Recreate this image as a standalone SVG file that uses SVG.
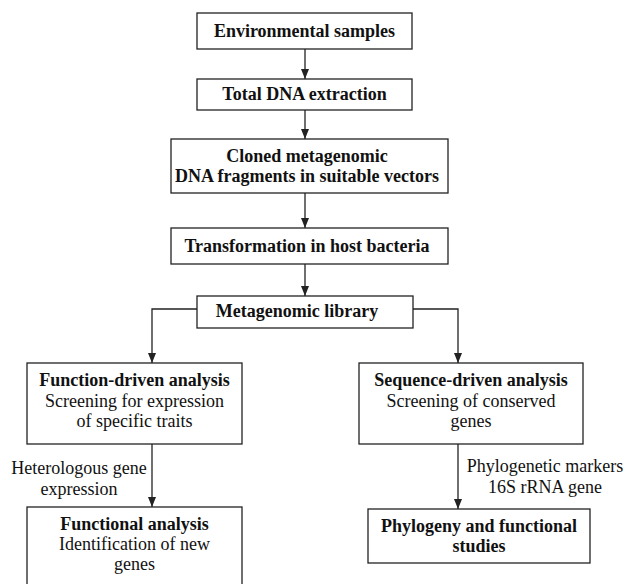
<svg xmlns="http://www.w3.org/2000/svg" width="624" height="584" viewBox="0 0 624 584">
<style>
.box{fill:#fff;stroke:#222;stroke-width:1.3}
text{font-family:'Liberation Serif','Times New Roman','DejaVu Serif',serif;font-size:18px;fill:#111;text-anchor:middle}
.b{font-weight:bold}
.c{fill:none;stroke:#222;stroke-width:1.3}
</style>
<defs>
<marker id="ah" markerWidth="10" markerHeight="10" viewBox="0 0 10 10" refX="10" refY="5" orient="auto" markerUnits="userSpaceOnUse">
<path d="M0,1 L10,5 L0,9 Z" fill="#222"/>
</marker>
</defs>
<rect width="624" height="584" fill="#fff"/>
<g id="connectors">
<path class="c" d="M305,49 V79" marker-end="url(#ah)"/>
<path class="c" d="M305,110 V139" marker-end="url(#ah)"/>
<path class="c" d="M305,193 V228" marker-end="url(#ah)"/>
<path class="c" d="M305,264 V296" marker-end="url(#ah)"/>
<path class="c" d="M197,309 H152 V363" marker-end="url(#ah)"/>
<path class="c" d="M413,309 H458 V363" marker-end="url(#ah)"/>
<path class="c" d="M152,444 V507" marker-end="url(#ah)"/>
<path class="c" d="M458,444 V509" marker-end="url(#ah)"/>
<text x="79" y="474">Heterologous gene</text>
<text x="79" y="495">expression</text>
<text x="545" y="472">Phylogenetic markers</text>
<text x="545" y="493">16S rRNA gene</text>
</g>
<g id="n1"><rect class="box" x="197" y="13" width="215" height="36"/><text class="b" x="304.5" y="37">Environmental samples</text></g>
<g id="n2"><rect class="box" x="197" y="79" width="215" height="31"/><text class="b" x="304.5" y="100">Total DNA extraction</text></g>
<g id="n3"><rect class="box" x="171" y="139" width="277" height="54"/><text class="b" x="307" y="162">Cloned metagenomic</text><text class="b" x="307" y="182">DNA fragments in suitable vectors</text></g>
<g id="n4"><rect class="box" x="171" y="228" width="277" height="36"/><text class="b" x="307" y="252">Transformation in host bacteria</text></g>
<g id="n5"><rect class="box" x="197" y="296" width="216" height="32"/><text class="b" x="297" y="317">Metagenomic library</text></g>
<g id="n6"><rect class="box" x="27" y="363" width="215" height="81"/><text class="b" x="134.5" y="386">Function-driven analysis</text><text x="134.5" y="407">Screening for expression</text><text x="134.5" y="427">of specific traits</text></g>
<g id="n7"><rect class="box" x="27" y="507" width="215" height="90"/><text class="b" x="134.5" y="530">Functional analysis</text><text x="134.5" y="550">Identification of new</text><text x="134.5" y="570">genes</text></g>
<g id="n8"><rect class="box" x="359" y="363" width="224" height="81"/><text class="b" x="471" y="386">Sequence-driven analysis</text><text x="471" y="407">Screening of conserved</text><text x="471" y="427">genes</text></g>
<g id="n9"><rect class="box" x="368" y="509" width="222" height="54"/><text class="b" x="479" y="532">Phylogeny and functional</text><text class="b" x="479" y="552">studies</text></g>
</svg>
